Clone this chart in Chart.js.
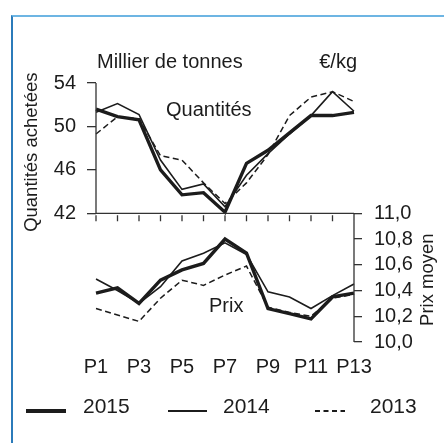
<!DOCTYPE html>
<html>
<head>
<meta charset="utf-8">
<script src="https://cdn.jsdelivr.net/npm/chart.js@4/dist/chart.umd.min.js"></script>
<style>
	body { margin: 0; background: #fff; }
	#frame {
		position: absolute; left: 11px; top: 15px; width: 433px; height: 428px;
		border-left: 2px solid #2b7bba; border-top: 2px solid #6db5e3;
	}
	#chart { position: absolute; left: 0; top: 0; }
</style>
</head>
<body>
<div id="frame"></div>
<canvas id="chart" width="444" height="443"></canvas>
<script>
"use strict";

const periods = ['P1', 'P2', 'P3', 'P4', 'P5', 'P6', 'P7', 'P8', 'P9', 'P10', 'P11', 'P12', 'P13'];
const years = ['2015', '2014', '2013'];

// Quantités achetées (milliers de tonnes)
const qty2015 = [51.6, 50.9, 50.6, 46.0, 43.7, 43.9, 42.1, 46.6, 47.8, 49.4, 51.0, 51.0, 51.3];
const qty2014 = [51.3, 52.1, 51.1, 46.9, 44.2, 44.7, 42.6, 45.5, 47.5, 49.3, 51.0, 53.2, 51.4];
const qty2013 = [49.3, 50.9, 50.7, 47.3, 46.9, 44.8, 42.9, 44.8, 47.4, 51.0, 52.7, 53.2, 52.3];

// Prix moyen (€/kg)
const prix2015 = [10.38, 10.42, 10.30, 10.48, 10.56, 10.61, 10.80, 10.69, 10.26, 10.22, 10.18, 10.35, 10.38];
const prix2014 = [10.49, 10.40, 10.30, 10.43, 10.63, 10.69, 10.77, 10.68, 10.39, 10.35, 10.26, 10.36, 10.45];
const prix2013 = [10.26, 10.21, 10.16, 10.34, 10.48, 10.44, 10.52, 10.59, 10.27, 10.23, 10.20, 10.34, 10.37];

const qtyTicks = [42, 46, 50, 54];
const prixTicks = [10.0, 10.2, 10.4, 10.6, 10.8, 11.0];

// the top panel takes this share of the plot height
const split = 0.503;
const qtyMax = 54, qtyMin = qtyMax - 12 / split;
const prixMin = 10, prixMax = prixMin + 1 / (1 - split);

const ink = '#1c1c1c';
const FONT = "'Liberation Sans', Arial, sans-serif";

const styles = {
	'2015': { borderWidth: 3.4, borderDash: [] },
	'2014': { borderWidth: 1.6, borderDash: [] },
	'2013': { borderWidth: 1.5, borderDash: [6, 3.5] }
};

function makeSet(year, data, axis) {
	return {
		label: year,
		data: data,
		yAxisID: axis,
		borderColor: ink,
		backgroundColor: ink,
		borderWidth: styles[year].borderWidth,
		borderDash: styles[year].borderDash,
		pointRadius: 0,
		tension: 0,
		fill: false
	};
}

const decor = {
	id: 'decor',
	afterDraw(chart) {
		const ctx = chart.ctx;
		const area = chart.chartArea;
		const x = chart.scales.x, yQ = chart.scales.yQ, yP = chart.scales.yP;
		const mid = yQ.getPixelForValue(42);
		ctx.save();
		ctx.strokeStyle = '#333';
		ctx.lineWidth = 1.3;
		ctx.beginPath();
		ctx.moveTo(area.left, yQ.getPixelForValue(54));
		ctx.lineTo(area.left, mid);
		ctx.lineTo(area.right, mid);
		ctx.moveTo(area.right, yP.getPixelForValue(11));
		ctx.lineTo(area.right, yP.getPixelForValue(10));
		for (let i = 0; i < periods.length; i++) {
			const px = x.getPixelForValue(i);
			ctx.moveTo(px, mid + 2);
			ctx.lineTo(px, mid + 8);
		}
		ctx.stroke();

		ctx.fillStyle = ink;
		ctx.font = '20px ' + FONT;
		ctx.textBaseline = 'alphabetic';
		ctx.textAlign = 'left';
		ctx.fillText('Millier de tonnes', area.left + 1, 68);
		ctx.fillText('Quantités', 166, 116);
		ctx.fillText('Prix', 209, 312);
		ctx.textAlign = 'right';
		ctx.fillText('€/kg', 357, 68);

		ctx.font = '18.5px ' + FONT;
		ctx.textAlign = 'center';
		ctx.textBaseline = 'middle';
		ctx.save();
		ctx.translate(32, (yQ.getPixelForValue(42) + yQ.getPixelForValue(54)) / 2 + 4);
		ctx.rotate(-Math.PI / 2);
		ctx.fillText('Quantités achetées', 0, 0);
		ctx.restore();
		ctx.save();
		ctx.translate(428, (yP.getPixelForValue(10) + yP.getPixelForValue(11)) / 2 + 2);
		ctx.rotate(-Math.PI / 2);
		ctx.fillText('Prix moyen', 0, 0);
		ctx.restore();

		// legend
		const legendX = [[26, 66, 83], [168, 207, 223], [315, 345, 370]];
		ctx.font = '21px ' + FONT;
		ctx.textAlign = 'left';
		ctx.textBaseline = 'alphabetic';
		years.forEach((year, i) => {
			const [x0, x1, tx] = legendX[i];
			ctx.strokeStyle = ink;
			ctx.lineWidth = i === 0 ? 4 : 2;
			ctx.setLineDash(i === 2 ? [5, 3.5] : []);
			ctx.beginPath();
			ctx.moveTo(x0, 411);
			ctx.lineTo(x1, 411);
			ctx.stroke();
			ctx.setLineDash([]);
			ctx.fillText(year, tx, 413);
		});
		ctx.restore();
	}
};

new Chart(document.querySelector('#chart').getContext('2d'), {
	type: 'line',
	data: {
		labels: periods,
		datasets: [
			makeSet('2013', qty2013, 'yQ'),
			makeSet('2014', qty2014, 'yQ'),
			makeSet('2015', qty2015, 'yQ'),
			makeSet('2013', prix2013, 'yP'),
			makeSet('2014', prix2014, 'yP'),
			makeSet('2015', prix2015, 'yP')
		]
	},
	options: {
		responsive: false,
		animation: false,
		devicePixelRatio: 1,
		layout: { padding: { top: 83, bottom: 61, left: 0, right: 0 } },
		plugins: { legend: { display: false }, tooltip: { enabled: false } },
		scales: {
			x: {
				offset: false,
				grid: { display: false },
				border: { display: false },
				ticks: {
					autoSkip: false,
					minRotation: 0,
					maxRotation: 0,
					padding: 5,
					color: ink,
					font: { family: FONT, size: 20 },
					callback: (v, i) => i % 2 === 0 ? periods[i] : ''
				},
				afterFit: s => { s.height = 40; }
			},
			yQ: {
				position: 'left',
				min: qtyMin,
				max: qtyMax,
				afterBuildTicks: s => { s.ticks = qtyTicks.map(v => ({ value: v })); },
				grid: { drawOnChartArea: false, tickLength: 9, color: '#333', lineWidth: 1.3 },
				border: { display: false },
				ticks: { minRotation: 0, maxRotation: 0, padding: 11, color: ink, font: { family: FONT, size: 20 } },
				afterFit: s => { s.width = 96; }
			},
			yP: {
				position: 'right',
				min: prixMin,
				max: prixMax,
				afterBuildTicks: s => { s.ticks = prixTicks.map(v => ({ value: v })); },
				grid: { drawOnChartArea: false, tickLength: 8, color: '#333', lineWidth: 1.3 },
				border: { display: false },
				ticks: {
					minRotation: 0,
					maxRotation: 0,
					padding: 12,
					color: ink,
					font: { family: FONT, size: 20 },
					callback: v => v.toFixed(1).replace('.', ',')
				},
				afterFit: s => { s.width = 90; }
			}
		}
	},
	plugins: [decor]
});
</script>
</body>
</html>
